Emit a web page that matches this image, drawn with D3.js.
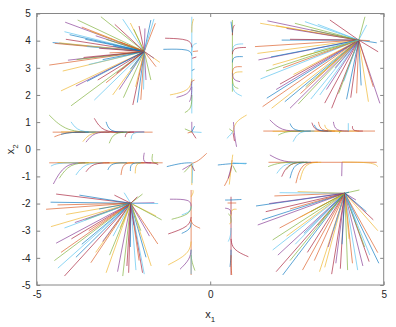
<!DOCTYPE html>
<html>
<head>
<meta charset="utf-8">
<script src="https://cdn.jsdelivr.net/npm/d3@7"></script>
<style>
  body { margin: 0; background: #fff; }
  text { font-family: "Liberation Sans", Arial, sans-serif; }
</style>
</head>
<body>
<svg id="chart" width="396" height="327"></svg>
<script>
// ---- data ----
var xTicks = [-5, 0, 5];
var yTicks = [-5, -4, -3, -2, -1, 0, 1, 2, 3, 4, 5];
var lineColors = ["#0072BD", "#D95319", "#EDB120", "#7E2F8E", "#77AC30", "#4DBEEE", "#A2142F"];

// the four points the straight trajectories run into
var foci = [[-1.9, 3.6], [4.28, 4.02], [-2.29, -1.99], [3.88, -1.62]];

// start points of the straight trajectories, one list per focus
var startsTL = [[-4.54,3.93],[-4.48,3.9],[-4.35,3.92],[-4.18,4.68],[-3.82,4.76],[-4.2,4.33],[-4.16,4.05],[-4.05,4.22],[-3.7,4.5],[-3.45,4.35],[-3.3,4.18],[-3.0,4.05],[-3.55,3.78],[-3.2,3.72],[-2.8,3.8],[-4.64,3.1],[-4.25,2.88],[-4.1,3.28],[-3.85,3.3],[-3.5,3.12],[-3.65,3.38],[-3.1,3.3],[-2.9,3.55],[-4.3,2.15],[-3.87,2.33],[-4.01,1.6],[-3.34,1.81],[-3.24,2.55],[-3.55,2.5],[-3.0,2.45],[-2.81,2.0],[-2.62,2.2],[-2.5,1.9],[-2.42,2.6],[-2.23,1.63],[-2.1,1.72],[-2.0,1.82],[-2.15,2.3],[-1.85,2.55],[-1.71,2.55],[-1.92,2.2],[-2.7,2.8],[-2.3,2.95],[-1.56,3.04],[-1.45,3.2],[-1.62,3.35],[-3.15,4.88],[-2.52,4.79],[-2.05,4.54],[-1.71,4.76],[-1.58,4.64],[-2.3,4.65],[-1.88,4.45],[-2.2,4.42],[-1.62,4.8],[-2.75,4.6],[-3.6,4.05],[-2.6,3.95]];
var startsTR = [[1.44,4.64],[1.65,4.73],[2.44,4.64],[2.73,4.7],[3.45,4.76],[2.06,4.02],[1.29,3.78],[1.36,3.53],[1.39,3.29],[1.61,2.88],[1.45,2.59],[2.01,2.4],[1.63,1.88],[1.51,1.57],[1.77,1.51],[2.3,1.51],[2.54,1.67],[3.16,2.0],[3.5,1.51],[3.93,1.84],[4.22,2.06],[4.56,1.75],[4.89,1.69],[4.46,4.88],[4.51,4.58],[4.84,3.59],[4.8,3.92],[4.6,4.0],[1.9,4.55],[2.2,4.45],[2.9,4.4],[3.1,4.6],[2.3,4.05],[1.75,3.4],[2.1,3.0],[2.4,2.75],[1.9,2.2],[2.75,2.3],[2.9,1.85],[3.3,1.7],[2.15,1.75],[2.6,2.05],[3.05,2.6],[3.35,2.2],[3.7,2.05],[3.85,2.5],[4.05,1.9],[4.35,2.35],[4.7,2.3],[1.8,3.1],[3.6,3.0],[2.6,3.4],[3.0,3.6]];
var startsBL = [[-4.44,-1.65],[-3.77,-1.69],[-4.73,-2.21],[-4.59,-2.85],[-4.44,-3.46],[-4.49,-4.1],[-4.39,-4.38],[-4.2,-4.67],[-3.87,-3.98],[-3.44,-4.18],[-3.0,-4.55],[-2.67,-4.51],[-2.52,-4.67],[-2.14,-4.45],[-1.95,-4.55],[-1.85,-3.98],[-1.51,-3.49],[-1.56,-2.46],[-1.61,-1.97],[-1.95,-1.65],[-2.48,-1.6],[-2.76,-1.69],[-4.6,-1.95],[-4.4,-2.05],[-4.15,-2.4],[-3.9,-2.7],[-3.6,-2.6],[-4.2,-2.9],[-4.0,-3.3],[-3.7,-3.5],[-3.5,-3.0],[-3.3,-3.8],[-3.1,-3.4],[-2.9,-3.9],[-2.8,-3.2],[-2.4,-4.3],[-2.3,-3.6],[-2.05,-4.1],[-1.7,-4.3],[-1.75,-3.2],[-1.4,-2.6],[-1.5,-2.0],[-2.1,-1.75],[-3.2,-2.2],[-4.3,-3.8],[-2.6,-2.9],[-2.2,-2.8],[-2.0,-3.0],[-1.9,-4.6],[-2.35,-4.55]];
var startsBR = [[1.32,-2.09],[1.85,-1.72],[2.52,-1.56],[1.37,-2.79],[1.8,-3.34],[1.8,-3.71],[1.9,-4.51],[2.09,-4.63],[2.66,-4.45],[3.15,-4.51],[3.62,-4.2],[3.96,-4.45],[4.25,-4.45],[4.58,-4.14],[4.86,-4.2],[4.83,-3.81],[4.83,-3.0],[4.2,-1.87],[4.3,-1.5],[2.0,-1.6],[1.6,-2.3],[1.5,-2.6],[2.0,-2.9],[2.2,-3.2],[1.95,-3.9],[2.3,-4.1],[2.45,-3.5],[2.8,-3.8],[2.7,-3.1],[3.0,-4.1],[3.3,-4.35],[3.4,-3.6],[3.1,-2.8],[3.55,-3.0],[3.75,-4.4],[3.8,-3.5],[4.1,-4.2],[4.0,-3.3],[4.4,-4.3],[4.45,-3.6],[4.6,-3.9],[4.7,-2.6],[4.5,-2.3],[2.3,-2.2],[2.6,-2.5],[1.7,-2.0],[2.9,-2.3],[4.2,-2.7],[3.5,-4.6],[4.0,-1.58]];

// bent trajectories: start, bend, end
var stripUpperLeft = [
  [[-4.54,0.63],[-1.66,0.63]], [[-4.3,0.64],[-2.5,0.62]], [[-3.9,0.63],[-1.9,0.64]],
  [[-4.64,1.26],[-4.15,0.64],[-3.3,0.63]], [[-4.01,1.01],[-3.8,0.63],[-3.2,0.63]],
  [[-3.34,1.14],[-3.1,0.63],[-2.5,0.63]], [[-3.0,1.01],[-2.9,0.63],[-2.4,0.63]],
  [[-4.49,0.46],[-4.15,0.63],[-3.6,0.63]], [[-3.67,0.28],[-3.45,0.63],[-2.9,0.63]],
  [[-3.58,0.26],[-3.35,0.63],[-2.9,0.63]], [[-2.91,0.22],[-2.78,0.63],[-2.3,0.63]],
  [[-2.28,0.37],[-2.25,0.63],[-1.9,0.63]], [[-2.45,0.45],[-2.42,0.63],[-2.2,0.63]],
  [[-4.3,0.55],[-4.0,0.63],[-3.5,0.63]]
];
var stripLowerLeft = [
  [[-4.64,-0.5],[-1.37,-0.5]], [[-4.4,-0.49],[-2.0,-0.51]],
  [[-4.52,-1.28],[-4.2,-0.52],[-3.6,-0.5]], [[-4.35,-1.07],[-4.05,-0.52],[-3.5,-0.5]],
  [[-3.87,-0.95],[-3.62,-0.51],[-3.1,-0.5]], [[-3.58,-0.83],[-3.38,-0.51],[-2.9,-0.5]],
  [[-2.95,-0.76],[-2.85,-0.5],[-2.4,-0.5]], [[-2.57,-0.95],[-2.52,-0.5],[-2.2,-0.5]],
  [[-2.16,-0.89],[-2.15,-0.5],[-1.9,-0.5]], [[-1.9,-0.13],[-1.95,-0.5],[-1.7,-0.5]],
  [[-1.66,-0.18],[-1.7,-0.5],[-1.5,-0.5]], [[-4.59,-0.62],[-4.4,-0.5],[-3.8,-0.5]],
  [[-1.5,-0.58],[-1.55,-0.5],[-2.0,-0.5]], [[-2.3,-0.8],[-2.3,-0.5],[-2.0,-0.5]]
];
var stripUpperRight = [
  [[1.53,0.67],[4.75,0.67]], [[1.8,0.66],[4.3,0.67]],
  [[1.72,1.08],[2.05,0.67],[2.6,0.67]], [[1.96,0.52],[2.2,0.67],[2.7,0.67]],
  [[2.39,0.28],[2.55,0.67],[3.0,0.67]], [[2.93,0.98],[3.02,0.67],[3.4,0.67]],
  [[3.0,0.9],[3.08,0.67],[3.5,0.67]], [[3.12,1.01],[3.18,0.67],[3.6,0.67]],
  [[3.3,0.9],[3.35,0.67],[3.8,0.67]], [[3.55,1.01],[3.6,0.67],[4.0,0.67]],
  [[3.72,0.59],[3.75,0.67]], [[3.98,0.96],[3.98,0.67]],
  [[4.1,0.85],[4.1,0.67],[4.4,0.67]], [[2.3,0.95],[2.4,0.67],[2.9,0.67]]
];
var stripLowerRight = [
  [[1.68,-0.48],[4.8,-0.48]], [[3.8,-0.47],[4.7,-0.48],[4.83,-0.64]],
  [[1.72,-0.21],[2.1,-0.48],[2.7,-0.48]], [[1.67,-0.64],[2.0,-0.48],[2.6,-0.48]],
  [[1.92,-0.89],[2.15,-0.49],[2.7,-0.48]], [[2.06,-1.01],[2.25,-0.49],[2.8,-0.48]],
  [[2.3,-1.07],[2.42,-0.49],[2.9,-0.48]], [[2.47,-1.25],[2.62,-0.49],[3.1,-0.48]],
  [[2.59,-1.13],[2.72,-0.49],[3.2,-0.48]], [[3.79,-0.99],[3.8,-0.48]],
  [[2.2,-0.75],[2.35,-0.48],[2.8,-0.48]]
];
var colUpperLeft = [
  [[-0.53,4.88],[-0.53,1.32]],
  [[-1.3,4.09],[-0.56,4.06],[-0.53,3.75]], [[-1.35,3.68],[-0.57,3.7],[-0.53,3.45]],
  [[-0.35,3.62],[-0.5,3.6]], [[-1.16,2.0],[-0.58,2.15],[-0.53,2.6]],
  [[-0.97,1.91],[-0.56,2.05],[-0.53,2.5]], [[-0.73,1.35],[-0.53,1.5],[-0.53,2.0]],
  [[-0.39,3.9],[-0.52,3.85],[-0.53,3.6]], [[-0.4,3.4],[-0.52,3.35]],
  [[-0.45,2.95],[-0.53,2.9]], [[-0.45,2.55],[-0.53,2.5]],
  [[-0.48,4.8],[-0.53,4.6],[-0.53,4.3]], [[-0.6,1.75],[-0.54,1.9],[-0.53,2.3]]
];
var colUpperRight = [
  [[0.64,4.76],[0.64,2.12]],
  [[0.95,3.88],[0.66,3.87],[0.64,3.6]], [[1.03,3.75],[0.66,3.74],[0.64,3.5]],
  [[0.94,3.41],[0.66,3.42],[0.64,3.2]], [[0.91,3.04],[0.66,3.05],[0.64,2.8]],
  [[0.93,2.85],[0.66,2.85],[0.64,2.6]], [[0.86,2.49],[0.66,2.55],[0.64,2.8]],
  [[0.81,2.24],[0.66,2.3],[0.64,2.6]], [[0.91,1.96],[0.67,2.1],[0.64,2.4]],
  [[0.71,4.58],[0.65,4.5],[0.64,4.2]], [[0.6,4.7],[0.64,4.3]]
];
var colLowerLeft = [
  [[-0.55,-1.5],[-0.55,-4.63]],
  [[-0.5,-1.5],[-0.48,-1.6],[-0.55,-1.75]], [[-1.16,-1.84],[-0.57,-1.84],[-0.55,-2.1]],
  [[-1.11,-2.58],[-0.58,-2.4],[-0.55,-2.1]], [[-0.82,-2.42],[-0.57,-2.3],[-0.55,-2.1]],
  [[-1.21,-3.12],[-0.6,-2.85],[-0.55,-2.5]], [[-0.82,-3.1],[-0.57,-2.95],[-0.55,-2.7]],
  [[-0.29,-2.91],[-0.52,-2.78],[-0.55,-2.6]], [[-1.21,-4.26],[-0.6,-3.85],[-0.55,-3.4]],
  [[-0.87,-4.42],[-0.58,-4.05],[-0.55,-3.7]], [[-0.44,-4.47],[-0.53,-4.15],[-0.55,-3.9]],
  [[-0.55,-4.6],[-0.55,-3.7]]
];
var colLowerRight = [
  [[0.6,-1.75],[0.6,-4.63]],
  [[0.43,-1.87],[0.6,-1.87],[0.9,-1.85]], [[0.5,-1.98],[0.75,-1.98]],
  [[0.76,-2.21],[0.61,-2.2],[0.6,-2.45]], [[0.43,-2.17],[0.59,-2.2],[0.6,-2.4]],
  [[0.52,-2.38],[0.6,-2.45],[0.6,-2.7]], [[0.52,-3.4],[0.59,-3.2],[0.6,-2.9]],
  [[1.1,-3.96],[0.64,-3.7],[0.6,-3.3]], [[0.57,-4.33],[0.6,-4.0],[0.6,-3.7]],
  [[0.62,-4.63],[0.6,-4.3],[0.6,-3.9]], [[0.55,-2.75],[0.6,-2.7]]
];
var centre = [
  [[-0.53,1.01],[-0.53,0.64]], [[-0.73,0.75],[-0.53,0.64]], [[-0.25,0.62],[-0.53,0.64]],
  [[-0.41,0.4],[-0.53,0.64]], [[-0.45,0.85],[-0.53,0.64]], [[-0.65,0.6],[-0.53,0.64]],
  [[1.05,1.26],[0.7,1.0],[0.66,0.6]], [[0.67,1.0],[0.7,0.5],[0.76,0.09]],
  [[0.55,0.75],[0.66,0.65]], [[0.48,0.4],[0.6,0.55],[0.65,0.65]], [[0.7,0.3],[0.66,0.6]],
  [[-1.25,-0.64],[-0.8,-0.5],[-0.53,-0.5]], [[-0.1,-0.15],[-0.35,-0.45],[-0.53,-0.52]],
  [[-0.53,-0.52],[-0.53,-1.32]], [[-0.8,-0.75],[-0.53,-0.55]], [[-0.75,-0.85],[-0.53,-0.55]],
  [[-0.5,-0.5],[-0.52,-1.25]], [[-0.45,-0.8],[-0.53,-0.6]],
  [[0.22,-0.58],[0.65,-0.52],[1.05,-0.52]], [[0.63,-0.4],[0.6,-0.9],[0.41,-1.35]],
  [[0.65,-0.2],[0.62,-0.5],[0.55,-1.3]], [[0.52,-1.07],[0.62,-0.6]],
  [[0.75,-0.85],[0.65,-0.6]], [[1.03,-0.54],[0.65,-0.5]]
];

// ---- layout ----
var svg = d3.select("#chart");
var plotL = 36.7, plotR = 383.7, plotT = 13.5, plotB = 285;

var x = d3.scaleLinear().domain([-5, 5]).range([plotL, plotR]);
var y = d3.scaleLinear().domain([-5, 5]).range([plotB, plotT]);

var line = d3.line()
    .x(function(d) { return x(d[0]); })
    .y(function(d) { return y(d[1]); })
    .curve(d3.curveBasis);

// collect every trajectory as a list of points
var paths = [];
[startsTL, startsTR, startsBL, startsBR].forEach(function(starts, k) {
    starts.forEach(function(s) { paths.push([s, foci[k]]); });
});
[stripUpperLeft, stripLowerLeft, stripUpperRight, stripLowerRight,
 colUpperLeft, colUpperRight, colLowerLeft, colLowerRight, centre].forEach(function(group) {
    group.forEach(function(p) { paths.push(p); });
});

svg.append("g")
    .selectAll("path")
    .data(paths)
    .enter()
    .append("path")
    .attr("d", line)
    .attr("fill", "none")
    .attr("stroke", function(d, i) { return lineColors[i % lineColors.length]; })
    .attr("stroke-width", 0.75)
    .attr("stroke-opacity", 0.85);

// ---- axes (ticks inward on all four sides) ----
var axisColor = "#868686";
var tickLen = 3.5;
var fmt = function(d) { return String(d); };

function styleAxis(g) {
    g.selectAll(".domain").remove();
    g.selectAll(".tick line").attr("stroke", axisColor);
    g.selectAll("text").attr("fill", "#262626").style("font-size", "10px");
}

svg.append("g")
    .attr("transform", "translate(0," + plotB + ")")
    .call(d3.axisBottom(x).tickValues(xTicks).tickSize(-tickLen).tickPadding(6).tickFormat(fmt))
    .call(styleAxis);
svg.append("g")
    .attr("transform", "translate(0," + plotT + ")")
    .call(d3.axisTop(x).tickValues(xTicks).tickSize(-tickLen).tickFormat(""))
    .call(styleAxis);
svg.append("g")
    .attr("transform", "translate(" + plotL + ",0)")
    .call(d3.axisLeft(y).tickValues(yTicks).tickSize(-tickLen).tickPadding(6).tickFormat(fmt))
    .call(styleAxis);
svg.append("g")
    .attr("transform", "translate(" + plotR + ",0)")
    .call(d3.axisRight(y).tickValues(yTicks).tickSize(-tickLen).tickFormat(""))
    .call(styleAxis);

svg.append("rect")
    .attr("x", plotL).attr("y", plotT)
    .attr("width", plotR - plotL).attr("height", plotB - plotT)
    .attr("fill", "none")
    .attr("stroke", axisColor)
    .attr("stroke-width", 1);

// axis labels
var xl = svg.append("text")
    .attr("x", x(0)).attr("y", 318)
    .attr("text-anchor", "middle")
    .attr("fill", "#262626")
    .style("font-size", "11px")
    .text("x");
xl.append("tspan").attr("dy", 4).style("font-size", "8px").text("1");

var yl = svg.append("text")
    .attr("transform", "translate(14," + y(0) + ") rotate(-90)")
    .attr("text-anchor", "middle")
    .attr("fill", "#262626")
    .style("font-size", "11px")
    .text("x");
yl.append("tspan").attr("dy", 4).style("font-size", "8px").text("2");
</script>
</body>
</html>
